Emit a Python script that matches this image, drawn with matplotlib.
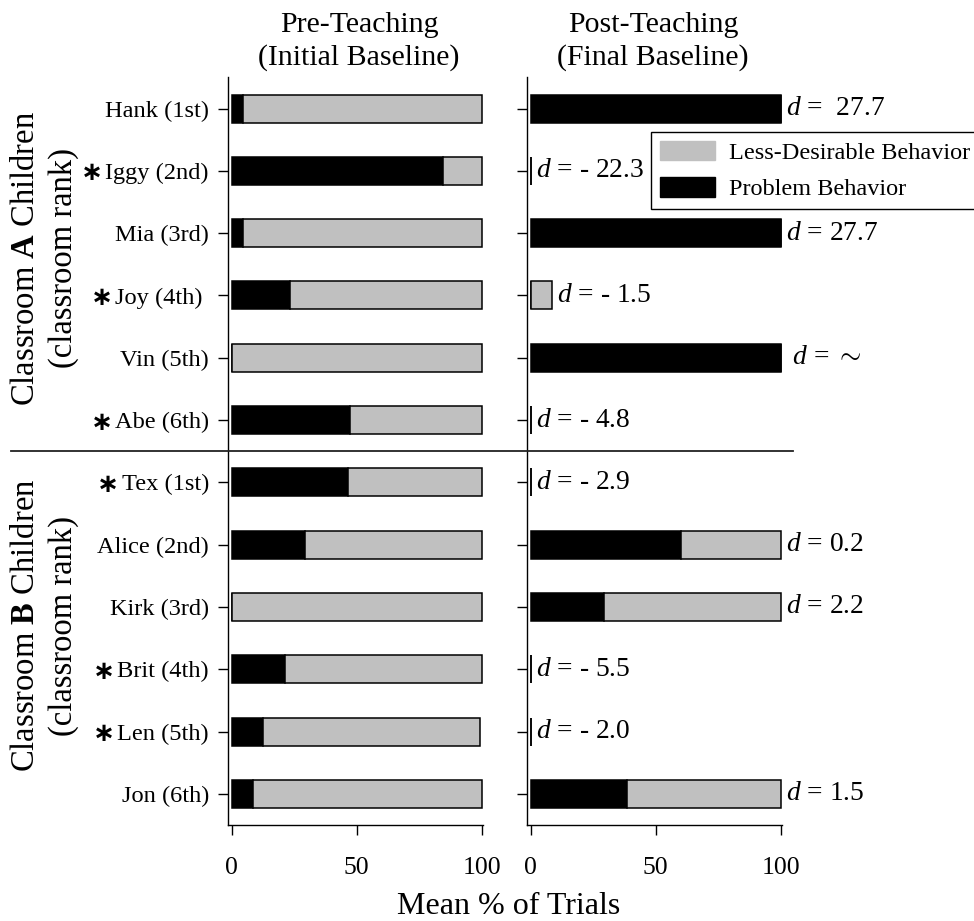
import matplotlib
matplotlib.use("Agg")
import matplotlib.pyplot as plt
from matplotlib.lines import Line2D
from matplotlib.patches import Patch
from matplotlib.transforms import blended_transform_factory

plt.rcParams["font.family"] = ["Liberation Serif", "DejaVu Sans"]
plt.rcParams["mathtext.fontset"] = "custom"
plt.rcParams["mathtext.rm"] = "Liberation Serif"
plt.rcParams["mathtext.it"] = "Liberation Serif:italic"
plt.rcParams["mathtext.bf"] = "Liberation Serif:bold"

# ---- data -------------------------------------------------------------
children = ["Hank (1st)", "Iggy (2nd)", "Mia (3rd)", "Joy (4th) ", "Vin (5th)", "Abe (6th)",
            "Tex (1st)", "Alice (2nd)", "Kirk (3rd)", "Brit (4th)", "Len (5th)", "Jon (6th)"]
starred = [False, True, False, True, False, True,
           True, False, False, True, True, False]

pre_problem = [4.5, 84.4, 4.5, 23.5, 0.0, 47.3, 46.5, 29.5, 0.0, 21.5, 12.4, 8.4]
pre_less = [95.5, 15.6, 95.5, 76.5, 100.0, 52.7, 53.5, 70.5, 100.0, 78.5, 86.8, 91.6]

post_problem = [100.0, 0.0, 100.0, 0.0, 100.0, 0.0, 0.0, 60.3, 29.3, 0.0, 0.0, 38.4]
post_less = [0.0, 0.0, 0.0, 8.4, 0.0, 0.0, 0.0, 39.7, 70.7, 0.0, 0.0, 61.6]

effect_labels = ["$d$ =  27.7", "$d$ = - 22.3", "$d$ = 27.7", "$d$ = - 1.5", " $d$ = $\\sim$",
                 "$d$ = - 4.8", "$d$ = - 2.9", "$d$ = 0.2", "$d$ = 2.2", "$d$ = - 5.5",
                 "$d$ = - 2.0", "$d$ = 1.5"]

x_ticks = [0, 50, 100]
panel_titles = [("Pre-Teaching", "(Initial Baseline)"), ("Post-Teaching", "(Final Baseline)")]
legend_labels = ["Less-Desirable Behavior", "Problem Behavior"]
group_labels = [("Classroom $\\mathbf{A}$ Children", "(classroom rank)"),
                ("Classroom $\\mathbf{B}$ Children", "(classroom rank)")]
x_label = "Mean % of Trials"

GRAY = "#c0c0c0"
W, H = 974, 921

fig = plt.figure(figsize=(W / 100, H / 100), dpi=100)
ax_bottom = 1 - 825 / H
ax_height = 747.6 / H
ax_pre = fig.add_axes([228 / W, ax_bottom, 255 / W, ax_height])
ax_post = fig.add_axes([527.2 / W, ax_bottom, 255 / W, ax_height])

rows = list(range(len(children)))


def draw_panel(ax, problem, less):
    ax.barh(rows, problem, height=0.45, color="black", edgecolor="black", linewidth=1.1)
    ax.barh(rows, less, left=problem, height=0.45, color=GRAY, edgecolor="black", linewidth=1.1)
    ax.set_xlim(-1.4, 100.6)
    ax.set_ylim(len(children) - 0.5, -0.5)
    ax.set_yticks(rows)
    ax.set_xticks(x_ticks)
    ax.set_xticklabels([str(t) for t in x_ticks], fontsize=18.5)
    for side in ("top", "right"):
        ax.spines[side].set_visible(False)
    for side in ("left", "bottom"):
        ax.spines[side].set_linewidth(1.0)
    ax.tick_params(axis="x", length=7.2, width=1.0, pad=15.5)
    ax.tick_params(axis="y", length=7.2, width=1.0, pad=6.5)


draw_panel(ax_pre, pre_problem, pre_less)
draw_panel(ax_post, post_problem, post_less)

# row names on the left panel, with asterisks for flagged children
labels = ax_pre.set_yticklabels(children, fontsize=17.6)
for lab, flag in zip(labels, starred):
    if flag:
        ax_pre.annotate("\u2217", xy=(0, 0.5), xycoords=lab, xytext=(-1.5, 0),
                        textcoords="offset points", ha="right", va="center",
                        fontsize=19, fontweight="bold", family="DejaVu Sans")
ax_post.set_yticklabels([])

# effect-size labels after each post-teaching bar
for r, (p, l, txt) in enumerate(zip(post_problem, post_less, effect_labels)):
    ax_post.annotate(txt, xy=(p + l, r), xytext=(4, 0), textcoords="offset points",
                     ha="left", va="center", fontsize=19.8, annotation_clip=False)

# panel titles, one text per line
for cx, (line1, line2) in zip((359, 653), panel_titles):
    fig.text(cx / W, 1 - 32 / H, line1, ha="center", va="baseline", fontsize=21.5)
    fig.text(cx / W, 1 - 65 / H, line2, ha="center", va="baseline", fontsize=21.5)

# classroom group labels
tr = blended_transform_factory(fig.transFigure, ax_pre.transData)
for (line1, line2), yc in zip(group_labels, (2.4, 8.3)):
    fig.text(26 / W, yc, line1, transform=tr, rotation=90, ha="center", va="center",
             fontsize=23.5)
    fig.text(64 / W, yc, line2, transform=tr, rotation=90, ha="center", va="center",
             fontsize=23.5)

# divider between the two classrooms
fig.add_artist(Line2D([11 / W, 793 / W], [5.5, 5.5], transform=tr, color="#222222",
                      linewidth=1.3))

# shared x-axis label
fig.text(509 / W, 1 - 914 / H, x_label, ha="center", va="baseline", fontsize=23)

# legend
handles = [Patch(facecolor=GRAY, edgecolor=GRAY), Patch(facecolor="black", edgecolor="black")]
leg = fig.legend(handles, legend_labels, loc="upper left",
                 bbox_to_anchor=(651 / W, 1 - 132.3 / H), fontsize=17.5,
                 frameon=True, fancybox=False, framealpha=1, edgecolor="black",
                 handlelength=2.3, handleheight=0.85, handletextpad=0.55,
                 labelspacing=0.55, borderpad=0.35, borderaxespad=0)
leg.get_frame().set_linewidth(1.0)

fig.savefig("out.png", dpi=100)
